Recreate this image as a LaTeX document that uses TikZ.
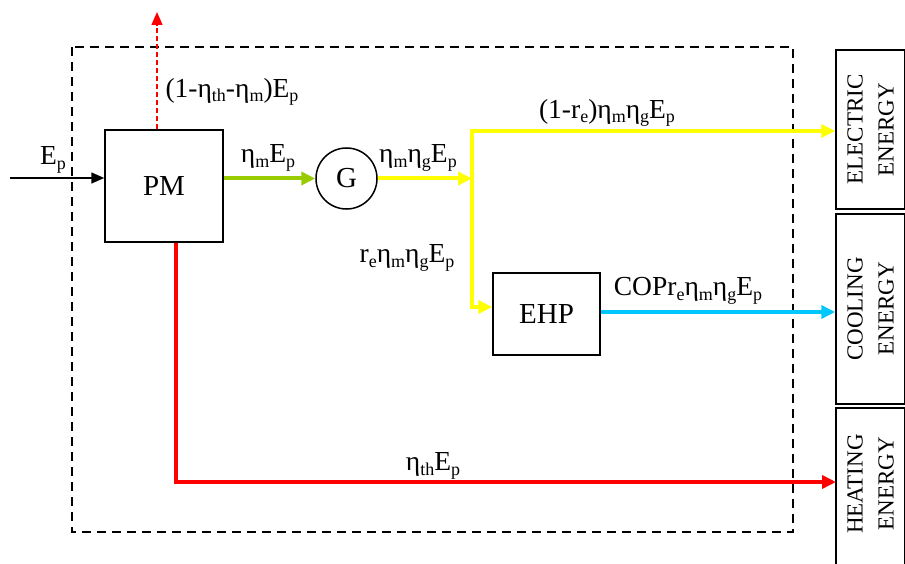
\documentclass[tikz,border=0pt]{standalone}
\usepackage{fontspec}
\setmainfont{Liberation Serif}
\usetikzlibrary{arrows.meta}
\definecolor{yel}{HTML}{FFFF00}
\definecolor{grn}{HTML}{99CC00}
\definecolor{cyn}{HTML}{00C8FF}
\definecolor{rd}{HTML}{FF0000}
\newcommand{\sbs}[1]{\raisebox{-0.35ex}{\fontsize{18}{18}\selectfont #1}}
\begin{document}
\begin{tikzpicture}[x=1pt,y=-1pt,
  lbl/.style={font=\fontsize{27.5}{30}\selectfont, inner sep=0pt},
  blk/.style={draw, line width=1.5pt, inner sep=0pt, font=\fontsize{29}{32}\selectfont},
  outbox/.style={draw, line width=1.5pt, rotate=90, align=center, inner sep=0pt, minimum height=69pt, font=\fontsize{23}{31}\selectfont},
  outtxt/.style={rotate=90, align=center, inner sep=0pt, font=\fontsize{23}{31}\selectfont},
  flow/.style={line width=4pt, -{Triangle[length=14pt,width=13pt]}},
  thin/.style={line width=1.5pt, -{Triangle[length=13pt,width=11pt]}}
]
\useasboundingbox (0,0) rectangle (905,564);
% system boundary
\draw[line width=2pt, dash pattern=on 9pt off 6pt] (72,47) rectangle (793,532);
% blocks
\node[blk, minimum width=118pt, minimum height=112pt] (pm) at (164,186) {PM};
\node[draw, circle, line width=1.5pt, minimum size=61pt, inner sep=0pt, font=\fontsize{29}{32}\selectfont] (g) at (346.5,178.5) {G};
\node[blk, minimum width=107pt, minimum height=82pt] (ehp) at (546.5,314) {EHP};
% output boxes
\node[outbox, minimum width=159pt] (elec) at (870.5,129.5) {ELECTRIC\\ENERGY};
\node[outbox, minimum width=190pt] (cool) at (870.5,309) {COOLING\\ENERGY};
\coordinate (hb) at (836,408);
\draw[line width=1.5pt] (836,570) -- (hb) -- (904.5,408) -- (904.5,570);
\node[outtxt] (heat) at (870.5,484) {HEATING\\ENERGY};
% coordinates
\coordinate (in) at (10,178);
\coordinate (vent) at (157,12);
\coordinate (sp) at (472,178.5);
\coordinate (spt) at (472,131);
\coordinate (spb) at (472,307);
\coordinate (rc) at (176,482);
% flows
\draw[thin, black] (in) -- (in -| pm.west);
\draw[thin, rd, dash pattern=on 5pt off 3pt] (vent |- pm.north) -- (vent);
\draw[flow, grn] (pm.east |- g) -- (g.west);
\draw[flow, yel] (g.east) -- (sp);
\draw[yel, line width=4pt, {Triangle[length=14pt,width=13pt]}-{Triangle[length=14pt,width=13pt]}] (spt -| elec.north) -- (spt) -- (spb) -- (spb -| ehp.west);
\draw[flow, cyn] (ehp.east |- 0,312) -- (cool.north |- 0,312);
\draw[flow, rd] (rc |- pm.south) -- (rc) -- (rc -| hb);
% labels
\node[lbl] (lep) at (53,160) {E\sbs{p}};
\node[lbl] (lloss) at (232,92) {(1-η\sbs{th}-η\sbs{m})E\sbs{p}};
\node[lbl] (lme) at (268,158) {η\sbs{m}E\sbs{p}};
\node[lbl] (lmg) at (418,158) {η\sbs{m}η\sbs{g}E\sbs{p}};
\node[lbl] (lre) at (407,258) {r\sbs{e}η\sbs{m}η\sbs{g}E\sbs{p}};
\node[lbl] (lel) at (607,113) {(1-r\sbs{e})η\sbs{m}η\sbs{g}E\sbs{p}};
\node[lbl] (lcop) at (688,291) {COPr\sbs{e}η\sbs{m}η\sbs{g}E\sbs{p}};
\node[lbl] (lth) at (433,466) {η\sbs{th}E\sbs{p}};
\end{tikzpicture}
\end{document}
